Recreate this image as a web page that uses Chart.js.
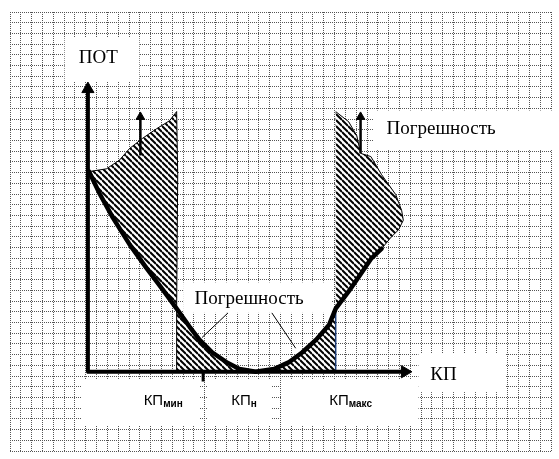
<!DOCTYPE html>
<html>
<head>
<meta charset="utf-8">
<script src="https://cdn.jsdelivr.net/npm/chart.js@4.4.1/dist/chart.umd.min.js"></script>
<style>
	body { margin: 0; background: #fff; }
	#wrap { width: 559px; height: 459px; }
</style>
</head>
<body>
<div id="wrap"><canvas id="chart" width="559" height="459"></canvas></div>
<script>
// units = one cell of the squared paper, origin where the axes cross
const X_MIN = -7.2
const X_CELLS = 50
const Y_MIN = -7.4
const Y_CELLS = 41

// ПОТ (КП) curve
const curveKp = [0.1, 1.1, 2.3, 3.85, 5.4, 6.9, 8.2, 9.4, 10.3, 11.5, 12.8, 14.0, 15.5, 17.2, 18.6, 19.8, 21.1, 22.3, 22.9, 24.1, 25.2, 26.2, 27.15]
const curvePot = [18.7, 16.6, 14.4, 11.9, 9.7, 7.7, 5.9, 4.2, 3.0, 1.8, 0.9, 0.25, 0, 0.25, 0.9, 1.8, 3.0, 4.4, 5.9, 7.5, 9.1, 10.6, 11.5]

const kpMin = 8.2
const kpMax = 22.9
const kpMinIdx = 6
const kpMaxIdx = 18

// upper edge of the left error band
const leftTopKp = [0.1, 1.7, 2.9, 3.85, 5.05, 6.35, 7.55, 8.2, 8.3]
const leftTopPot = [18.7, 18.95, 19.75, 20.85, 21.8, 22.7, 23.45, 24.3, 18.4]

// upper edge of the right error band
const rightTopKp = [22.9, 24.1, 24.85, 25.2, 26.15, 27.15, 28.45, 29.0, 29.15, 28.7, 28.05, 27.15]
const rightTopPot = [24.3, 23.35, 22.05, 20.4, 20.1, 18.4, 16.55, 15.05, 14.15, 13.25, 12.6, 11.5]

// axes and arrows: [kp0, pot0, kp1, pot1]
const axisPot = [0, -0.1, 0, 26.4]
const axisKp = [-0.1, 0, 29.3, 0]
const arrowLeft = [4.85, 20.2, 4.85, 23.8]
const arrowRight = [25.2, 20.4, 25.2, 23.8]
const leaderLeft = [12.95, 5.5, 10.55, 3.2]
const leaderRight = [17.0, 5.5, 19.2, 2.2]
const kpNomTick = [10.65, 0, 10.65, -0.9]

// texts
const serifLabels = ['ПОТ', 'Погрешность', 'Погрешность', 'КП']
const serifKp = [-0.85, 27.6, 9.85, 31.65]
const serifPot = [28.8, 22.25, 6.35, -0.77]
const tickLabels = [['КП', 'мин'], ['КП', 'н'], ['КП', 'макс']]
const tickLabelKp = [5.15, 13.25, 22.3]
const tickLabelPot = -3.07

// white patches under labels: [kp0, pot0, kp1, pot1]
const whiteBoxes = [
	[-2.15, 31.2, 4.75, 27.15],
	[26.4, 24.4, 43.5, 20.7],
	[8.8, 8.35, 22.55, 5.5],
	[30.55, 1.7, 38.65, -1.9],
	[-0.6, -0.7, 10.3, -5.0],
	[11.05, -0.7, 16.95, -5.0],
	[17.85, -0.7, 30.55, -5.0],
]

const pts = (xs, ys) => xs.map((x, i) => ({ x, y: ys[i] }))
const seg = a => [{ x: a[0], y: a[1] }, { x: a[2], y: a[3] }]

const makeHatch = () => {
	const s = 6
	const c = document.createElement('canvas')
	c.width = s
	c.height = s
	const g = c.getContext('2d')
	g.fillStyle = '#fff'
	g.fillRect(0, 0, s, s)
	g.strokeStyle = '#000'
	g.lineWidth = 2
	;[-s, 0, s].forEach(o => {
		g.beginPath()
		g.moveTo(0, o)
		g.lineTo(s, s + o)
		g.stroke()
	})
	return g.createPattern(c, 'repeat')
}
const hatch = makeHatch()

const curve = pts(curveKp, curvePot)
const leftBand = [...pts(leftTopKp, leftTopPot), ...curve.slice(0, kpMinIdx + 1).reverse()]
const lowerBand = [{ x: kpMin, y: 0 }, ...curve.slice(kpMinIdx, kpMaxIdx + 1), { x: kpMax, y: 0 }]
const rightBand = [...pts(rightTopKp, rightTopPot), ...curve.slice(kpMaxIdx, curve.length - 1).reverse()]

const line = (data, extra) => Object.assign({
	data,
	borderColor: '#000',
	borderWidth: 1,
	pointRadius: 0,
	fill: false,
	tension: 0,
	clip: false,
}, extra)

const arrow = (a, width, r, rot) => line(seg(a), {
	borderWidth: width,
	borderCapStyle: 'butt',
	pointRadius: [0, r],
	pointStyle: 'triangle',
	pointRotation: rot,
	pointBackgroundColor: '#000',
	pointBorderColor: '#000',
	pointBorderWidth: 1,
})

const labelsPlugin = {
	id: 'labels',
	beforeDatasetsDraw(chart) {
		const { ctx, scales: { x, y } } = chart
		ctx.save()
		ctx.fillStyle = '#fff'
		whiteBoxes.forEach(b => {
			const x0 = x.getPixelForValue(b[0])
			const y0 = y.getPixelForValue(b[1])
			ctx.fillRect(x0, y0, x.getPixelForValue(b[2]) - x0, y.getPixelForValue(b[3]) - y0)
		})
		ctx.restore()
	},
	afterDatasetsDraw(chart) {
		const { ctx, scales: { x, y } } = chart
		ctx.save()
		ctx.fillStyle = '#000'
		ctx.textBaseline = 'alphabetic'
		ctx.textAlign = 'left'
		ctx.font = '19px "Liberation Serif", "Times New Roman", serif'
		serifLabels.forEach((t, i) => {
			ctx.fillText(t, x.getPixelForValue(serifKp[i]), y.getPixelForValue(serifPot[i]))
		})
		tickLabels.forEach((t, i) => {
			const px = x.getPixelForValue(tickLabelKp[i])
			const py = y.getPixelForValue(tickLabelPot)
			ctx.font = '15px "Liberation Sans", Arial, sans-serif'
			ctx.fillText(t[0], px, py)
			const w = ctx.measureText(t[0]).width
			ctx.font = 'bold 10px "Liberation Sans", Arial, sans-serif'
			ctx.fillText(t[1], px + w, py + 2)
		})
		ctx.restore()
	},
}

const gridTicks = (min, n) => Array.from({ length: n + 1 }, (_, i) => ({ value: min + i }))

const ctx = document.getElementById('chart').getContext('2d')
const myChart = new Chart(ctx, {
	type: 'line',
	data: {
		datasets: [
			line(seg(leaderLeft), { borderWidth: 1 }),
			line(seg(leaderRight), { borderWidth: 1 }),
			arrow(axisPot, 4, 7, 0),
			arrow(axisKp, 4, 7, 90),
			arrow(arrowLeft, 2.5, 5, 0),
			arrow(arrowRight, 2.5, 5, 0),
			line(seg(kpNomTick), { borderWidth: 3 }),
			line(curve, { borderWidth: 4.5, borderCapStyle: 'round', borderJoinStyle: 'round' }),
			line(seg([kpMax, 0, kpMax, curvePot[kpMaxIdx]]), { borderColor: '#1f3f7a', borderWidth: 1.5 }),
			line(seg([kpMin, 0, kpMin, curvePot[kpMinIdx]]), { borderWidth: 1 }),
			line(leftBand, { fill: 'shape', backgroundColor: hatch, borderWidth: 1 }),
			line(lowerBand, { fill: 'shape', backgroundColor: hatch, borderWidth: 0 }),
			line(rightBand, { fill: 'shape', backgroundColor: hatch, borderWidth: 1 }),
		],
	},
	options: {
		responsive: false,
		animation: false,
		events: [],
		layout: { padding: { left: 10, top: 12, right: 6, bottom: 2 } },
		plugins: {
			legend: { display: false },
			tooltip: { enabled: false },
		},
		scales: {
			x: {
				type: 'linear',
				min: X_MIN,
				max: X_MIN + X_CELLS,
				afterBuildTicks: s => { s.ticks = gridTicks(X_MIN, X_CELLS) },
				ticks: { display: false },
				grid: { color: '#555', lineWidth: 1, drawTicks: false },
				border: { display: false, dash: [1, 1] },
			},
			y: {
				type: 'linear',
				min: Y_MIN,
				max: Y_MIN + Y_CELLS,
				afterBuildTicks: s => { s.ticks = gridTicks(Y_MIN, Y_CELLS) },
				ticks: { display: false },
				grid: { color: '#555', lineWidth: 1, drawTicks: false },
				border: { display: false, dash: [1, 1] },
			},
		},
	},
	plugins: [labelsPlugin],
})
</script>
</body>
</html>
